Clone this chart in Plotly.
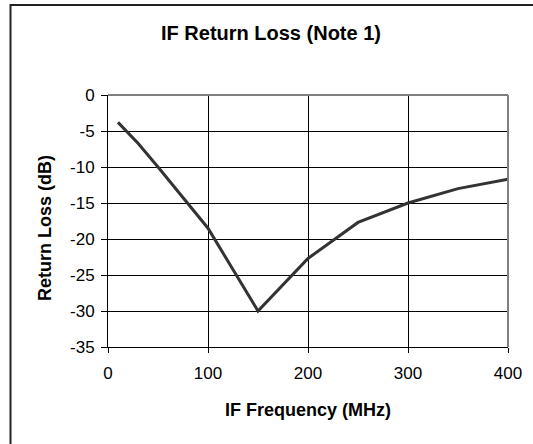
import plotly.graph_objects as go

# Data
freq_mhz = [10, 30, 50, 100, 150, 200, 250, 300, 350, 400]
return_loss_db = [-3.8, -6.7, -10.0, -18.5, -30.0, -22.7, -17.7, -15.0, -13.0, -11.7]

x_ticks = [0, 100, 200, 300, 400]
y_ticks = [0, -5, -10, -15, -20, -25, -30, -35]

title_text = "IF Return Loss (Note 1)"
x_title = "IF Frequency (MHz)"
y_title = "Return Loss (dB)"

W, H = 533, 444
L, R, T, B = 108, 25, 95, 97
pw, ph = W - L - R, H - T - B

def px_to_paper_x(px):
    return (px - L) / pw

def px_to_paper_y(py):
    return (H - B - py) / ph

FONT = "Liberation Sans, Arial, sans-serif"

fig = go.Figure()
fig.add_trace(go.Scatter(
    x=freq_mhz, y=return_loss_db, mode="lines",
    line=dict(color="#333333", width=3),
    hoverinfo="x+y", showlegend=False,
))

fig.update_layout(
    width=W, height=H,
    margin=dict(l=L, r=R, t=T, b=B, pad=0),
    paper_bgcolor="white", plot_bgcolor="white",
    font=dict(family=FONT, color="black"),
    title=dict(text="<b>" + title_text + "</b>", x=271 / W, xref="container",
               xanchor="center", y=1 - 33 / H, yref="container", yanchor="middle",
               font=dict(size=20, family=FONT, color="black")),
    xaxis=dict(range=[0, 400], tickvals=x_ticks, ticktext=[str(v) for v in x_ticks],
               showgrid=True, gridcolor="black", gridwidth=1,
               showline=True, linecolor="black", linewidth=1,
               ticks="outside", ticklen=5, tickcolor="black",
               ticklabelstandoff=6,
               tickfont=dict(size=17, family=FONT, color="black"),
               zeroline=False, fixedrange=True),
    yaxis=dict(range=[-35, 0], tickvals=y_ticks, ticktext=[str(v) for v in y_ticks],
               showgrid=True, gridcolor="black", gridwidth=1,
               showline=True, linecolor="black", linewidth=1,
               ticks="outside", ticklen=6, tickcolor="black",
               ticklabelstandoff=3,
               tickfont=dict(size=17, family=FONT, color="black"),
               zeroline=False, fixedrange=True),
    shapes=[
        # plot area top and right border (gray)
        dict(type="line", xref="paper", yref="paper", x0=0, x1=1, y0=1, y1=1,
             line=dict(color="#808080", width=2)),
        dict(type="line", xref="paper", yref="paper", x0=1, x1=1, y0=0, y1=1,
             line=dict(color="#808080", width=2)),
        # outer chart border
        dict(type="rect", xref="paper", yref="paper",
             x0=px_to_paper_x(10.5), x1=px_to_paper_x(560),
             y0=px_to_paper_y(470), y1=px_to_paper_y(5),
             line=dict(color="#222222", width=2), fillcolor="rgba(0,0,0,0)",
             layer="above"),
    ],
    annotations=[
        dict(text="<b>" + x_title + "</b>", xref="paper", yref="paper",
             x=0.5, y=px_to_paper_y(410), xanchor="center", yanchor="middle",
             showarrow=False, font=dict(size=18, family=FONT, color="black")),
        dict(text="<b>" + y_title + "</b>", xref="paper", yref="paper",
             x=px_to_paper_x(45), y=px_to_paper_y(228), xanchor="center", yanchor="middle",
             textangle=-90, showarrow=False,
             font=dict(size=18, family=FONT, color="black")),
    ],
)

fig.write_html(
    "out.html",
    config={"displayModeBar": False},
    post_script="document.body.style.margin='0';document.body.style.overflow='hidden';",
)
